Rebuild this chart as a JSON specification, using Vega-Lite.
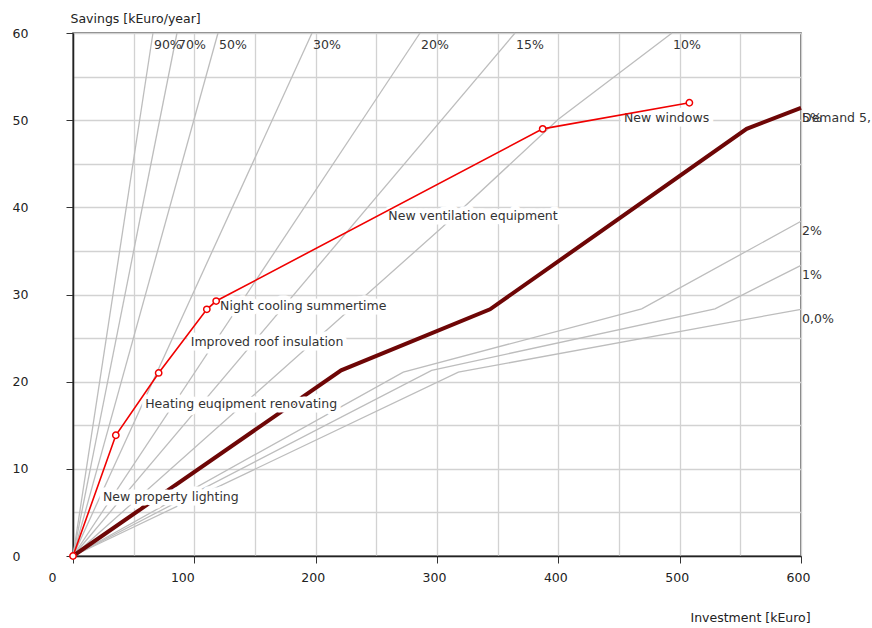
{
  "$schema": "https://vega.github.io/schema/vega-lite/v6.json",
  "width": 728,
  "height": 523,
  "autosize": {"type": "none"},
  "padding": {"left": 73, "top": 33, "right": 71, "bottom": 72},
  "background": "white",
  "datasets": {
    "rates": [
      {"rate": "90%", "step": 0, "x": 0, "y": 0}, {"rate": "90%", "step": 1, "x": 65.9, "y": 60},
      {"rate": "70%", "step": 0, "x": 0, "y": 0}, {"rate": "70%", "step": 1, "x": 85.7, "y": 60},
      {"rate": "50%", "step": 0, "x": 0, "y": 0}, {"rate": "50%", "step": 1, "x": 119.5, "y": 60},
      {"rate": "30%", "step": 0, "x": 0, "y": 0}, {"rate": "30%", "step": 1, "x": 197, "y": 60},
      {"rate": "20%", "step": 0, "x": 0, "y": 0}, {"rate": "20%", "step": 1, "x": 286, "y": 60},
      {"rate": "15%", "step": 0, "x": 0, "y": 0}, {"rate": "15%", "step": 1, "x": 364.3, "y": 60},
      {"rate": "10%", "step": 0, "x": 0, "y": 0}, {"rate": "10%", "step": 1, "x": 305, "y": 37.8},
      {"rate": "10%", "step": 2, "x": 400, "y": 50.1}, {"rate": "10%", "step": 3, "x": 493.7, "y": 60},
      {"rate": "2%", "step": 0, "x": 0, "y": 0}, {"rate": "2%", "step": 1, "x": 272.2, "y": 21.1},
      {"rate": "2%", "step": 2, "x": 468.7, "y": 28.35}, {"rate": "2%", "step": 3, "x": 600, "y": 38.4},
      {"rate": "1%", "step": 0, "x": 0, "y": 0}, {"rate": "1%", "step": 1, "x": 295.6, "y": 21.3},
      {"rate": "1%", "step": 2, "x": 529.1, "y": 28.35}, {"rate": "1%", "step": 3, "x": 600, "y": 33.35},
      {"rate": "0%", "step": 0, "x": 0, "y": 0}, {"rate": "0%", "step": 1, "x": 317.6, "y": 21.1},
      {"rate": "0%", "step": 2, "x": 600, "y": 28.3}
    ],
    "demand": [
      {"step": 0, "x": 0, "y": 0},
      {"step": 1, "x": 221, "y": 21.3},
      {"step": 2, "x": 343.7, "y": 28.3},
      {"step": 3, "x": 555.2, "y": 49.0},
      {"step": 4, "x": 600, "y": 51.4}
    ],
    "measures": [
      {"step": 0, "x": 0, "y": 0},
      {"step": 1, "x": 35.3, "y": 13.85},
      {"step": 2, "x": 70.6, "y": 21.0},
      {"step": 3, "x": 110.3, "y": 28.3},
      {"step": 4, "x": 118, "y": 29.25},
      {"step": 5, "x": 387.1, "y": 49.0},
      {"step": 6, "x": 508, "y": 52.0}
    ],
    "measureLabels": [
      {"label": "New property lighting", "x": 24.7, "y": 6.8},
      {"label": "Heating euqipment renovating", "x": 59.5, "y": 17.4},
      {"label": "Improved roof insulation", "x": 97.0, "y": 24.56},
      {"label": "Night cooling summertime", "x": 121.2, "y": 28.65},
      {"label": "New ventilation equipment", "x": 259.9, "y": 39.05},
      {"label": "New windows", "x": 454.1, "y": 50.3}
    ],
    "topLabels": [
      {"label": "90%", "x": 65.9, "y": 60},
      {"label": "70%", "x": 85.7, "y": 60},
      {"label": "50%", "x": 119.5, "y": 60},
      {"label": "30%", "x": 197, "y": 60},
      {"label": "20%", "x": 286, "y": 60},
      {"label": "15%", "x": 364.3, "y": 60},
      {"label": "10%", "x": 493.7, "y": 60}
    ],
    "rightLabels": [
      {"label": "5%", "x": 600, "y": 51.4},
      {"label": "Demand 5,", "x": 600, "y": 51.4},
      {"label": "2%", "x": 600, "y": 38.4},
      {"label": "1%", "x": 600, "y": 33.35},
      {"label": "0,0%", "x": 600, "y": 28.3}
    ]
  },
  "layer": [
    {
      "data": {"name": "rates"},
      "mark": {"type": "line", "color": "#bdbdbd", "strokeWidth": 1.3},
      "encoding": {
        "x": {
          "field": "x",
          "type": "quantitative",
          "scale": {"domain": [0, 600], "nice": false},
          "axis": {
            "title": "Investment [kEuro]",
            "values": [0, 50, 100, 150, 200, 250, 300, 350, 400, 450, 500, 550, 600],
            "labelExpr": "datum.value % 100 === 0 ? datum.label : ''",
            "labelOverlap": false,
            "labelFlush": false,
            "grid": true,
            "gridColor": "#d2d2d2",
            "gridWidth": 1.3,
            "tickSize": 7,
            "tickColor": "#333",
            "tickOpacity": {"condition": {"test": "datum.value % 100 === 0", "value": 1}, "value": 0},
            "labelOffset": {"condition": [{"test": "datum.value === 0", "value": -21}, {"test": "datum.value === 100", "value": -12}], "value": -3},
            "labelPadding": 8,
            "domainColor": "#222",
            "domainWidth": 1.5,
            "titleAlign": "left",
            "titleBaseline": "middle",
            "titleX": 617,
            "titleY": 61
          }
        },
        "y": {
          "field": "y",
          "type": "quantitative",
          "scale": {"domain": [0, 60], "nice": false},
          "axis": {
            "title": "Savings [kEuro/year]",
            "values": [0, 5, 10, 15, 20, 25, 30, 35, 40, 45, 50, 55, 60],
            "labelExpr": "datum.value % 10 === 0 ? datum.label : ''",
            "labelOverlap": false,
            "labelFlush": false,
            "grid": true,
            "gridColor": "#d2d2d2",
            "gridWidth": 1.3,
            "tickSize": 7,
            "tickColor": "#333",
            "tickOpacity": {"condition": {"test": "datum.value % 10 === 0", "value": 1}, "value": 0},
            "labelAlign": "left",
            "labelBaseline": "middle",
            "labelPadding": 54,
            "domainColor": "#222",
            "domainWidth": 1.5,
            "titleAngle": 0,
            "titleAlign": "left",
            "titleBaseline": "middle",
            "titleX": -3,
            "titleY": -15
          }
        },
        "detail": {"field": "rate", "type": "nominal"},
        "order": {"field": "step", "type": "quantitative"}
      }
    },
    {
      "data": {"name": "demand"},
      "mark": {"type": "line", "color": "#6e0606", "strokeWidth": 4},
      "encoding": {
        "x": {"field": "x", "type": "quantitative"},
        "y": {"field": "y", "type": "quantitative"},
        "order": {"field": "step", "type": "quantitative"}
      }
    },
    {
      "data": {"name": "topLabels"},
      "mark": {"type": "text", "align": "left", "baseline": "top", "dx": 1, "dy": 6, "fontSize": 12.5, "color": "#333"},
      "encoding": {
        "x": {"field": "x", "type": "quantitative"},
        "y": {"field": "y", "type": "quantitative"},
        "text": {"field": "label"}
      }
    },
    {
      "data": {"name": "rightLabels"},
      "mark": {"type": "text", "align": "left", "baseline": "top", "dx": 1, "dy": 4, "fontSize": 12.5, "color": "#333"},
      "encoding": {
        "x": {"field": "x", "type": "quantitative"},
        "y": {"field": "y", "type": "quantitative"},
        "text": {"field": "label"}
      }
    },
    {
      "data": {"name": "measureLabels"},
      "mark": {"type": "text", "align": "left", "baseline": "middle", "fontSize": 12.5, "fill": "white", "stroke": "white", "strokeWidth": 9, "strokeJoin": "round"},
      "encoding": {
        "x": {"field": "x", "type": "quantitative"},
        "y": {"field": "y", "type": "quantitative"},
        "text": {"field": "label"}
      }
    },
    {
      "data": {"name": "measureLabels"},
      "mark": {"type": "text", "align": "left", "baseline": "middle", "fontSize": 12.5, "color": "#333"},
      "encoding": {
        "x": {"field": "x", "type": "quantitative"},
        "y": {"field": "y", "type": "quantitative"},
        "text": {"field": "label"}
      }
    },
    {
      "data": {"name": "measures"},
      "mark": {"type": "line", "color": "#f00000", "strokeWidth": 1.6},
      "encoding": {
        "x": {"field": "x", "type": "quantitative"},
        "y": {"field": "y", "type": "quantitative"},
        "order": {"field": "step", "type": "quantitative"}
      }
    },
    {
      "data": {"name": "measures"},
      "mark": {"type": "point", "shape": "circle", "filled": true, "fill": "white", "stroke": "#f00000", "strokeWidth": 1.5, "size": 40, "opacity": 1},
      "encoding": {
        "x": {"field": "x", "type": "quantitative"},
        "y": {"field": "y", "type": "quantitative"}
      }
    }
  ],
  "config": {
    "font": "DejaVu Sans",
    "view": {"stroke": "#555", "strokeWidth": 1.5},
    "axis": {
      "labelFont": "DejaVu Sans",
      "labelFontSize": 12.5,
      "labelColor": "#222",
      "titleFont": "DejaVu Sans",
      "titleFontSize": 12.5,
      "titleFontWeight": "normal",
      "titleColor": "#222"
    }
  }
}
